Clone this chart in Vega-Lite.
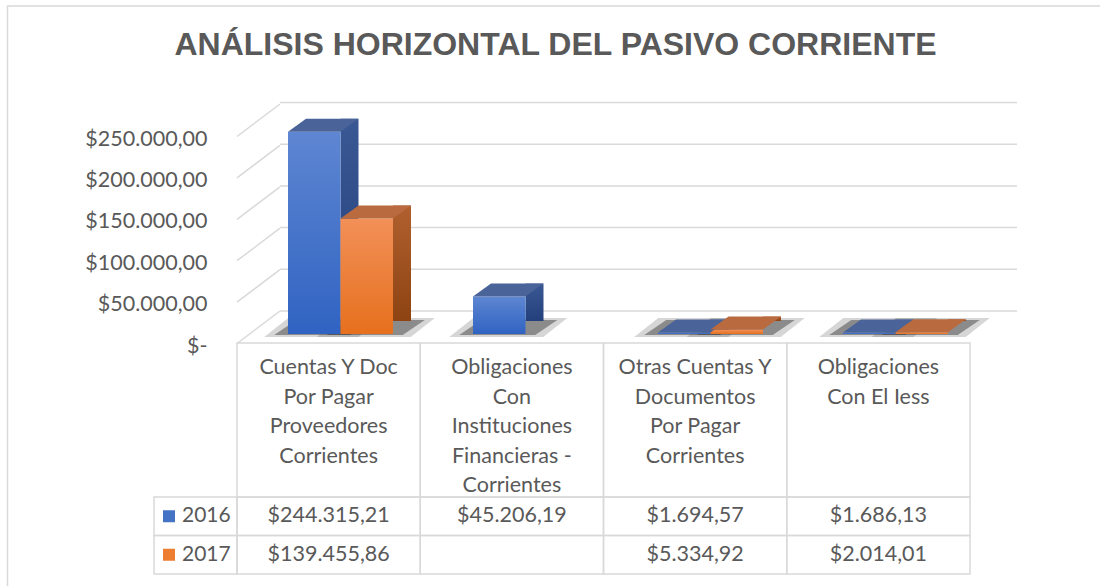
{
  "$schema": "https://vega.github.io/schema/vega-lite/v6.json",
  "width": 863,
  "height": 472,
  "autosize": "none",
  "padding": {"left": 154, "top": 102, "right": 83, "bottom": 12},
  "title": {"text": "ANÁLISIS HORIZONTAL DEL PASIVO CORRIENTE", "font": "Liberation Sans", "fontSize": 32, "fontWeight": "bold", "color": "#595959", "anchor": "middle", "baseline": "alphabetic", "offset": -82, "dx": -30},
  "config": {
    "view": {"stroke": null},
    "locale": {"number": {"decimal": ",", "thousands": ".", "grouping": [3], "currency": ["$", ""]}}
  },
  "datasets": {
    "rows": [
      {"category": "Cuentas Y Doc\nPor Pagar\nProveedores\nCorrientes", "year": "2016", "value": 244315.21},
      {"category": "Cuentas Y Doc\nPor Pagar\nProveedores\nCorrientes", "year": "2017", "value": 139455.86},
      {"category": "Obligaciones\nCon\nInstituciones\nFinancieras -\nCorrientes", "year": "2016", "value": 45206.19},
      {"category": "Obligaciones\nCon\nInstituciones\nFinancieras -\nCorrientes", "year": "2017", "value": null},
      {"category": "Otras Cuentas Y\nDocumentos\nPor Pagar\nCorrientes", "year": "2016", "value": 1694.57},
      {"category": "Otras Cuentas Y\nDocumentos\nPor Pagar\nCorrientes", "year": "2017", "value": 5334.92},
      {"category": "Obligaciones\nCon El Iess", "year": "2016", "value": 1686.13},
      {"category": "Obligaciones\nCon El Iess", "year": "2017", "value": 2014.01}
    ],
    "ticks": [{"tick": 0}, {"tick": 50000}, {"tick": 100000}, {"tick": 150000}, {"tick": 200000}, {"tick": 250000}]
  },
  "resolve": {"scale": {"x": "independent", "y": "independent", "color": "independent"}},
  "layer": [
    {
      "data": {"values": [{}]},
      "mark": {"type": "rect", "fillOpacity": 0, "stroke": "#D9D9D9", "strokeWidth": 1.5},
      "encoding": {
        "x": {"datum": 0, "type": "quantitative", "scale": {"domain": [0, 1], "range": [-146.5, 960]}, "axis": null},
        "x2": {"datum": 1},
        "y": {"datum": 0, "type": "quantitative", "scale": {"domain": [0, 1], "range": [-96, 500]}, "axis": null},
        "y2": {"datum": 1}
      }
    },
    {
      "data": {"name": "ticks"},
      "mark": {"type": "rule", "stroke": "#D9D9D9", "strokeWidth": 1.5},
      "encoding": {
        "x": {"datum": 0, "type": "quantitative", "scale": {"domain": [0, 1], "range": [126, 863]}, "axis": null},
        "x2": {"datum": 1},
        "y": {"field": "tick", "type": "quantitative", "scale": {"domain": [0, 250000], "range": [209, 0.5]}, "axis": null}
      }
    },
    {
      "data": {"name": "ticks"},
      "mark": {"type": "rule", "stroke": "#D9D9D9", "strokeWidth": 1.5, "y2Offset": -32.5},
      "encoding": {
        "x": {"datum": 0, "type": "quantitative", "scale": {"domain": [0, 1], "range": [83, 126]}, "axis": null},
        "x2": {"datum": 1},
        "y": {"field": "tick", "type": "quantitative", "scale": {"domain": [0, 250000], "range": [241.5, 34.5]},
          "axis": {"orient": "left", "offset": -53, "values": [0, 50000, 100000, 150000, 200000, 250000], "labelExpr": "datum.value == 0 ? '$-' : format(datum.value, '$,.2f')", "domain": false, "ticks": false, "grid": false, "labelPadding": 0, "labelFont": "Lato", "labelFontSize": 21.5, "labelColor": "#595959", "labelOffset": 2.5, "title": null}},
        "y2": {"field": "tick"}
      }
    },
    {
      "data": {"name": "rows"},
      "transform": [{"filter": "datum.year == '2016' && isValid(datum.value)"}],
      "mark": {"type": "point", "shape": "M-1,0.06L0.88,0.06L1.36,-0.32L-0.52,-0.32Z", "size": 10000, "filled": true, "fill": "#303030", "opacity": 0.2, "strokeWidth": 0, "xOffset": -14.25},
      "encoding": {
        "x": {"field": "category", "type": "nominal", "scale": {"type": "band", "domain": ["Cuentas Y Doc\nPor Pagar\nProveedores\nCorrientes", "Obligaciones\nCon\nInstituciones\nFinancieras -\nCorrientes", "Otras Cuentas Y\nDocumentos\nPor Pagar\nCorrientes", "Obligaciones\nCon El Iess"], "range": [82, 822], "paddingInner": 0, "paddingOuter": 0}, "axis": null},
        "y": {"datum": 0, "type": "quantitative", "scale": {"domain": [0, 250000], "range": [232, 25]}, "axis": null}
      }
    },
    {
      "data": {"name": "rows"},
      "transform": [{"filter": "datum.year == '2017' && isValid(datum.value)"}],
      "mark": {"type": "point", "shape": "M-1,0.06L0.88,0.06L1.36,-0.32L-0.52,-0.32Z", "size": 10000, "filled": true, "fill": "#303030", "opacity": 0.2, "strokeWidth": 0, "xOffset": 38.25},
      "encoding": {
        "x": {"field": "category", "type": "nominal", "scale": {"type": "band", "domain": ["Cuentas Y Doc\nPor Pagar\nProveedores\nCorrientes", "Obligaciones\nCon\nInstituciones\nFinancieras -\nCorrientes", "Otras Cuentas Y\nDocumentos\nPor Pagar\nCorrientes", "Obligaciones\nCon El Iess"], "range": [82, 822], "paddingInner": 0, "paddingOuter": 0}, "axis": null},
        "y": {"datum": 0, "type": "quantitative", "scale": {"domain": [0, 250000], "range": [232, 25]}, "axis": null}
      }
    },
    {
      "data": {"name": "rows"},
      "transform": [{"filter": "datum.year == '2016' && isValid(datum.value)"}],
      "mark": {"type": "point", "shape": "M-0.8,0.02L0.72,0.02L1.16,-0.28L-0.36,-0.28Z", "size": 10000, "filled": true, "fill": "#303030", "opacity": 0.45, "strokeWidth": 0, "xOffset": -14.25},
      "encoding": {
        "x": {"field": "category", "type": "nominal", "scale": {"type": "band", "domain": ["Cuentas Y Doc\nPor Pagar\nProveedores\nCorrientes", "Obligaciones\nCon\nInstituciones\nFinancieras -\nCorrientes", "Otras Cuentas Y\nDocumentos\nPor Pagar\nCorrientes", "Obligaciones\nCon El Iess"], "range": [82, 822], "paddingInner": 0, "paddingOuter": 0}, "axis": null},
        "y": {"datum": 0, "type": "quantitative", "scale": {"domain": [0, 250000], "range": [232, 25]}, "axis": null}
      }
    },
    {
      "data": {"name": "rows"},
      "transform": [{"filter": "datum.year == '2017' && isValid(datum.value)"}],
      "mark": {"type": "point", "shape": "M-0.8,0.02L0.72,0.02L1.16,-0.28L-0.36,-0.28Z", "size": 10000, "filled": true, "fill": "#303030", "opacity": 0.45, "strokeWidth": 0, "xOffset": 38.25},
      "encoding": {
        "x": {"field": "category", "type": "nominal", "scale": {"type": "band", "domain": ["Cuentas Y Doc\nPor Pagar\nProveedores\nCorrientes", "Obligaciones\nCon\nInstituciones\nFinancieras -\nCorrientes", "Otras Cuentas Y\nDocumentos\nPor Pagar\nCorrientes", "Obligaciones\nCon El Iess"], "range": [82, 822], "paddingInner": 0, "paddingOuter": 0}, "axis": null},
        "y": {"datum": 0, "type": "quantitative", "scale": {"domain": [0, 250000], "range": [232, 25]}, "axis": null}
      }
    },
    {
      "data": {"name": "rows"},
      "transform": [{"filter": "datum.year == '2016' && isValid(datum.value)"}],
      "mark": {"type": "bar", "width": 18, "xOffset": 21, "yOffset": -13, "y2Offset": -13, "color": {"gradient": "linear", "x1": 0, "y1": 0, "x2": 0, "y2": 1, "stops": [{"offset": 0, "color": "#3A5894"}, {"offset": 1, "color": "#23407D"}]}},
      "encoding": {
        "x": {"field": "category", "type": "nominal", "scale": {"type": "band", "domain": ["Cuentas Y Doc\nPor Pagar\nProveedores\nCorrientes", "Obligaciones\nCon\nInstituciones\nFinancieras -\nCorrientes", "Otras Cuentas Y\nDocumentos\nPor Pagar\nCorrientes", "Obligaciones\nCon El Iess"], "range": [82, 822], "paddingInner": 0, "paddingOuter": 0}, "axis": null},
        "y": {"field": "value", "type": "quantitative", "scale": {"domain": [0, 250000], "range": [232, 25]}, "axis": null}
      }
    },
    {
      "data": {"name": "rows"},
      "transform": [{"filter": "datum.year == '2017' && isValid(datum.value)"}],
      "mark": {"type": "bar", "width": 18, "xOffset": 73.5, "yOffset": -13, "y2Offset": -13, "color": {"gradient": "linear", "x1": 0, "y1": 0, "x2": 0, "y2": 1, "stops": [{"offset": 0, "color": "#B0602E"}, {"offset": 1, "color": "#8E4313"}]}},
      "encoding": {
        "x": {"field": "category", "type": "nominal", "scale": {"type": "band", "domain": ["Cuentas Y Doc\nPor Pagar\nProveedores\nCorrientes", "Obligaciones\nCon\nInstituciones\nFinancieras -\nCorrientes", "Otras Cuentas Y\nDocumentos\nPor Pagar\nCorrientes", "Obligaciones\nCon El Iess"], "range": [82, 822], "paddingInner": 0, "paddingOuter": 0}, "axis": null},
        "y": {"field": "value", "type": "quantitative", "scale": {"domain": [0, 250000], "range": [232, 25]}, "axis": null}
      }
    },
    {
      "data": {"name": "rows"},
      "transform": [{"filter": "datum.year == '2016' && isValid(datum.value)"}],
      "mark": {"type": "bar", "width": 52.5, "xOffset": -14.25, "color": {"gradient": "linear", "x1": 0, "y1": 0, "x2": 0, "y2": 1, "stops": [{"offset": 0, "color": "#5E86D2"}, {"offset": 1, "color": "#3063C2"}]}},
      "encoding": {
        "x": {"field": "category", "type": "nominal", "scale": {"type": "band", "domain": ["Cuentas Y Doc\nPor Pagar\nProveedores\nCorrientes", "Obligaciones\nCon\nInstituciones\nFinancieras -\nCorrientes", "Otras Cuentas Y\nDocumentos\nPor Pagar\nCorrientes", "Obligaciones\nCon El Iess"], "range": [82, 822], "paddingInner": 0, "paddingOuter": 0}, "axis": null},
        "y": {"field": "value", "type": "quantitative", "scale": {"domain": [0, 250000], "range": [232, 25]}, "axis": null}
      }
    },
    {
      "data": {"name": "rows"},
      "transform": [{"filter": "datum.year == '2017' && isValid(datum.value)"}],
      "mark": {"type": "bar", "width": 52.5, "xOffset": 38.25, "color": {"gradient": "linear", "x1": 0, "y1": 0, "x2": 0, "y2": 1, "stops": [{"offset": 0, "color": "#F29058"}, {"offset": 1, "color": "#E6701E"}]}},
      "encoding": {
        "x": {"field": "category", "type": "nominal", "scale": {"type": "band", "domain": ["Cuentas Y Doc\nPor Pagar\nProveedores\nCorrientes", "Obligaciones\nCon\nInstituciones\nFinancieras -\nCorrientes", "Otras Cuentas Y\nDocumentos\nPor Pagar\nCorrientes", "Obligaciones\nCon El Iess"], "range": [82, 822], "paddingInner": 0, "paddingOuter": 0}, "axis": null},
        "y": {"field": "value", "type": "quantitative", "scale": {"domain": [0, 250000], "range": [232, 25]}, "axis": null}
      }
    },
    {
      "data": {"name": "rows"},
      "transform": [{"filter": "datum.year == '2016' && isValid(datum.value)"}],
      "mark": {"type": "point", "shape": "M-1,0L1,0L1.686,-0.495L-0.314,-0.495Z", "size": 2756, "filled": true, "fill": "#4A6398", "opacity": 1, "strokeWidth": 0, "xOffset": -14.25},
      "encoding": {
        "x": {"field": "category", "type": "nominal", "scale": {"type": "band", "domain": ["Cuentas Y Doc\nPor Pagar\nProveedores\nCorrientes", "Obligaciones\nCon\nInstituciones\nFinancieras -\nCorrientes", "Otras Cuentas Y\nDocumentos\nPor Pagar\nCorrientes", "Obligaciones\nCon El Iess"], "range": [82, 822], "paddingInner": 0, "paddingOuter": 0}, "axis": null},
        "y": {"field": "value", "type": "quantitative", "scale": {"domain": [0, 250000], "range": [232, 25]}, "axis": null}
      }
    },
    {
      "data": {"name": "rows"},
      "transform": [{"filter": "datum.year == '2017' && isValid(datum.value)"}],
      "mark": {"type": "point", "shape": "M-1,0L1,0L1.686,-0.495L-0.314,-0.495Z", "size": 2756, "filled": true, "fill": "#B96A3F", "opacity": 1, "strokeWidth": 0, "xOffset": 38.25},
      "encoding": {
        "x": {"field": "category", "type": "nominal", "scale": {"type": "band", "domain": ["Cuentas Y Doc\nPor Pagar\nProveedores\nCorrientes", "Obligaciones\nCon\nInstituciones\nFinancieras -\nCorrientes", "Otras Cuentas Y\nDocumentos\nPor Pagar\nCorrientes", "Obligaciones\nCon El Iess"], "range": [82, 822], "paddingInner": 0, "paddingOuter": 0}, "axis": null},
        "y": {"field": "value", "type": "quantitative", "scale": {"domain": [0, 250000], "range": [232, 25]}, "axis": null}
      }
    },
    {
      "data": {"name": "rows"},
      "transform": [{"filter": "datum.year == '2016'"}],
      "mark": {"type": "rect", "fill": "#FFFFFF", "fillOpacity": 0, "stroke": "#D9D9D9", "strokeWidth": 1.5},
      "encoding": {
        "x": {"field": "category", "type": "nominal", "scale": {"type": "band", "domain": ["Cuentas Y Doc\nPor Pagar\nProveedores\nCorrientes", "Obligaciones\nCon\nInstituciones\nFinancieras -\nCorrientes", "Otras Cuentas Y\nDocumentos\nPor Pagar\nCorrientes", "Obligaciones\nCon El Iess"], "range": [83, 816], "paddingInner": 0, "paddingOuter": 0}, "axis": null},
        "y": {"datum": "h", "type": "nominal", "scale": {"type": "band", "domain": ["h"], "range": [241, 395], "paddingInner": 0, "paddingOuter": 0}, "axis": null}
      }
    },
    {
      "data": {"name": "rows"},
      "transform": [{"filter": "datum.year == '2016'"}],
      "mark": {"type": "text", "lineBreak": "\n", "lineHeight": 29.5, "baseline": "top", "yOffset": -63, "font": "Lato", "fontSize": 21.5, "color": "#595959"},
      "encoding": {
        "x": {"field": "category", "type": "nominal", "scale": {"type": "band", "domain": ["Cuentas Y Doc\nPor Pagar\nProveedores\nCorrientes", "Obligaciones\nCon\nInstituciones\nFinancieras -\nCorrientes", "Otras Cuentas Y\nDocumentos\nPor Pagar\nCorrientes", "Obligaciones\nCon El Iess"], "range": [83, 816], "paddingInner": 0, "paddingOuter": 0}, "axis": null},
        "y": {"datum": "h", "type": "nominal", "scale": {"type": "band", "domain": ["h"], "range": [241, 395], "paddingInner": 0, "paddingOuter": 0}, "axis": null},
        "text": {"field": "category"}
      }
    },
    {
      "data": {"name": "rows"},
      "mark": {"type": "rect", "fill": "#FFFFFF", "fillOpacity": 0, "stroke": "#D9D9D9", "strokeWidth": 1.5},
      "encoding": {
        "x": {"field": "category", "type": "nominal", "scale": {"type": "band", "domain": ["Cuentas Y Doc\nPor Pagar\nProveedores\nCorrientes", "Obligaciones\nCon\nInstituciones\nFinancieras -\nCorrientes", "Otras Cuentas Y\nDocumentos\nPor Pagar\nCorrientes", "Obligaciones\nCon El Iess"], "range": [83, 816], "paddingInner": 0, "paddingOuter": 0}, "axis": null},
        "y": {"field": "year", "type": "nominal", "scale": {"type": "band", "domain": ["2016", "2017"], "range": [395, 472], "paddingInner": 0, "paddingOuter": 0}, "axis": null}
      }
    },
    {
      "data": {"name": "rows"},
      "transform": [{"filter": "isValid(datum.value)"}],
      "mark": {"type": "text", "font": "Lato", "fontSize": 21.5, "color": "#595959", "baseline": "middle"},
      "encoding": {
        "x": {"field": "category", "type": "nominal", "scale": {"type": "band", "domain": ["Cuentas Y Doc\nPor Pagar\nProveedores\nCorrientes", "Obligaciones\nCon\nInstituciones\nFinancieras -\nCorrientes", "Otras Cuentas Y\nDocumentos\nPor Pagar\nCorrientes", "Obligaciones\nCon El Iess"], "range": [83, 816], "paddingInner": 0, "paddingOuter": 0}, "axis": null},
        "y": {"field": "year", "type": "nominal", "scale": {"type": "band", "domain": ["2016", "2017"], "range": [395, 472], "paddingInner": 0, "paddingOuter": 0}, "axis": null},
        "text": {"field": "value", "type": "quantitative", "format": "$,.2f"}
      }
    },
    {
      "data": {"name": "rows"},
      "transform": [{"filter": "datum.category == 'Obligaciones\\nCon El Iess'"}],
      "mark": {"type": "rect", "fill": "#FFFFFF", "fillOpacity": 0, "stroke": "#D9D9D9", "strokeWidth": 1.5},
      "encoding": {
        "x": {"datum": "leg", "type": "nominal", "scale": {"type": "band", "domain": ["leg"], "range": [0, 83], "paddingInner": 0, "paddingOuter": 0}, "axis": null},
        "y": {"field": "year", "type": "nominal", "scale": {"type": "band", "domain": ["2016", "2017"], "range": [395, 472], "paddingInner": 0, "paddingOuter": 0}, "axis": null}
      }
    },
    {
      "data": {"name": "rows"},
      "transform": [{"filter": "datum.category == 'Obligaciones\\nCon El Iess'"}],
      "mark": {"type": "point", "shape": "square", "size": 144, "filled": true, "opacity": 1, "strokeWidth": 0, "xOffset": -26.5},
      "encoding": {
        "x": {"datum": "leg", "type": "nominal", "scale": {"type": "band", "domain": ["leg"], "range": [0, 83], "paddingInner": 0, "paddingOuter": 0}, "axis": null},
        "y": {"field": "year", "type": "nominal", "scale": {"type": "band", "domain": ["2016", "2017"], "range": [395, 472], "paddingInner": 0, "paddingOuter": 0}, "axis": null},
        "color": {"field": "year", "type": "nominal", "scale": {"domain": ["2016", "2017"], "range": ["#4472C4", "#ED7D31"]}, "legend": null}
      }
    },
    {
      "data": {"name": "rows"},
      "transform": [{"filter": "datum.category == 'Obligaciones\\nCon El Iess'"}],
      "mark": {"type": "text", "align": "left", "xOffset": -13.5, "font": "Lato", "fontSize": 21, "color": "#595959", "baseline": "middle"},
      "encoding": {
        "x": {"datum": "leg", "type": "nominal", "scale": {"type": "band", "domain": ["leg"], "range": [0, 83], "paddingInner": 0, "paddingOuter": 0}, "axis": null},
        "y": {"field": "year", "type": "nominal", "scale": {"type": "band", "domain": ["2016", "2017"], "range": [395, 472], "paddingInner": 0, "paddingOuter": 0}, "axis": null},
        "text": {"field": "year"}
      }
    }
  ]
}
